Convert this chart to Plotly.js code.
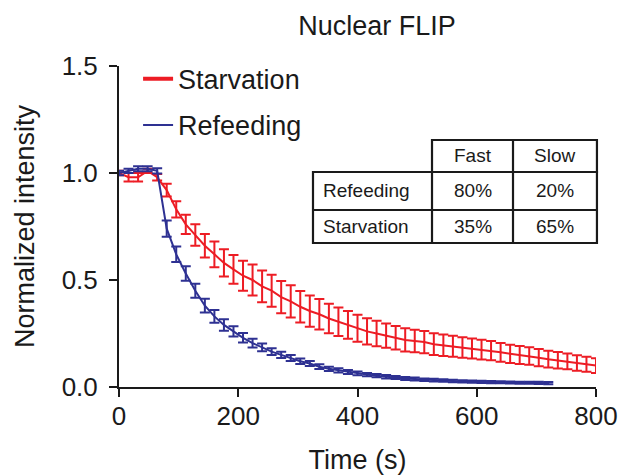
<!DOCTYPE html>
<html>
<head>
<meta charset="utf-8">
<script src="https://cdn.plot.ly/plotly-3.0.1.min.js"></script>
<style>html,body{margin:0;padding:0;background:#fff;}#chart{width:622px;height:475px;}</style>
</head>
<body>
<div id="chart"></div>
<script>
// ---- data ----
const timeStarvation = [0,16,32,48,64,80,96,112,128,144,160,176,192,208,224,240,256,272,288,304,320,336,352,368,384,400,416,432,448,464,480,496,512,528,544,560,576,592,608,624,640,656,672,688,704,720,736,752,768,784,800];
const starvation = [1.00,0.98,0.98,1.01,0.98,0.92,0.83,0.76,0.71,0.66,0.62,0.58,0.55,0.52,0.50,0.47,0.45,0.42,0.40,0.375,0.355,0.34,0.32,0.305,0.29,0.275,0.26,0.25,0.24,0.23,0.22,0.215,0.21,0.20,0.195,0.19,0.185,0.18,0.175,0.17,0.162,0.155,0.15,0.145,0.137,0.13,0.125,0.12,0.112,0.106,0.10];
const starvationErr = [0.01,0.02,0.02,0.01,0.015,0.03,0.038,0.045,0.05,0.055,0.06,0.064,0.067,0.07,0.072,0.074,0.075,0.075,0.075,0.074,0.073,0.071,0.069,0.067,0.065,0.063,0.061,0.059,0.057,0.055,0.054,0.053,0.052,0.051,0.05,0.049,0.048,0.047,0.046,0.045,0.044,0.043,0.042,0.041,0.04,0.039,0.038,0.037,0.036,0.035,0.034];

const timeRefeeding = [0,16,32,48,64,80,96,112,128,144,160,176,192,208,224,240,256,272,288,304,320,336,352,368,384,400,416,432,448,464,480,496,512,528,544,560,576,592,608,624,640,656,672,688,704,720];
const refeeding = [1.00,1.01,1.02,1.02,1.01,0.74,0.62,0.53,0.45,0.38,0.33,0.29,0.26,0.23,0.205,0.185,0.165,0.15,0.135,0.12,0.11,0.095,0.085,0.078,0.07,0.064,0.058,0.053,0.048,0.044,0.04,0.037,0.034,0.032,0.03,0.028,0.026,0.025,0.024,0.023,0.022,0.021,0.02,0.02,0.019,0.018];
const refeedingErr = [0.01,0.01,0.012,0.012,0.012,0.038,0.036,0.034,0.033,0.032,0.03,0.027,0.024,0.022,0.02,0.018,0.016,0.015,0.014,0.013,0.012,0.011,0.01,0.01,0.009,0.009,0.008,0.008,0.008,0.007,0.007,0.007,0.006,0.006,0.006,0.006,0.005,0.005,0.005,0.005,0.005,0.005,0.005,0.005,0.005,0.005];

const tableColumns = ["Fast", "Slow"];
const tableRows = ["Refeeding", "Starvation"];
const tableValues = [["80%", "20%"], ["35%", "65%"]];

const xTicks = [0, 200, 400, 600, 800];
const yTicks = [0, 0.5, 1.0, 1.5];

// ---- styles ----
const RED = "#ED1C24";
const BLUE = "#2E3192";
const INK = "#1a1a1a";
const FONT = "Liberation Sans, Arial, Helvetica, sans-serif";

const traces = [
  {
    x: timeStarvation, y: starvation, type: "scatter", mode: "lines",
    line: {color: RED, width: 2},
    error_y: {type: "data", array: starvationErr, visible: true, color: RED, thickness: 2, width: 5},
    showlegend: false, cliponaxis: false, hoverinfo: "skip"
  },
  {
    x: timeRefeeding, y: refeeding, type: "scatter", mode: "lines",
    line: {color: BLUE, width: 2},
    error_y: {type: "data", array: refeedingErr, visible: true, color: BLUE, thickness: 2, width: 5},
    showlegend: false, cliponaxis: false, hoverinfo: "skip"
  },
  // legend-only entries
  {x: [null], y: [null], type: "scatter", mode: "lines", name: "Starvation",
   line: {color: RED, width: 4}, legendgroup: "a"},
  {x: [null], y: [null], type: "scatter", mode: "lines", name: "Refeeding",
   line: {color: BLUE, width: 2}, legendgroup: "b"}
];

// table geometry in paper coordinates
const colX = [0.4067, 0.6562, 0.826, 1.002];
const rowY = [0.7695, 0.6698, 0.5514, 0.4486];
const shapes = [];
const lineStyle = {color: INK, width: 2.2};
shapes.push({type: "rect", xref: "paper", yref: "paper", x0: colX[1], x1: colX[3], y0: rowY[1], y1: rowY[0], line: lineStyle});
shapes.push({type: "rect", xref: "paper", yref: "paper", x0: colX[0], x1: colX[3], y0: rowY[3], y1: rowY[1], line: lineStyle});
shapes.push({type: "line", xref: "paper", yref: "paper", x0: colX[0], x1: colX[3], y0: rowY[2], y1: rowY[2], line: lineStyle});
shapes.push({type: "line", xref: "paper", yref: "paper", x0: colX[1], x1: colX[1], y0: rowY[3], y1: rowY[1], line: lineStyle});
shapes.push({type: "line", xref: "paper", yref: "paper", x0: colX[2], x1: colX[2], y0: rowY[3], y1: rowY[0], line: lineStyle});

const annotations = [];
const tFont = {family: FONT, size: 19, color: INK};
tableColumns.forEach((c, j) => {
  annotations.push({xref: "paper", yref: "paper", x: (colX[j+1] + colX[j+2]) / 2, y: (rowY[0] + rowY[1]) / 2,
    text: c, showarrow: false, xanchor: "center", yanchor: "middle", font: tFont});
});
tableRows.forEach((r, i) => {
  const yc = (rowY[i+1] + rowY[i+2]) / 2;
  annotations.push({xref: "paper", yref: "paper", x: colX[0] + 0.016, y: yc,
    text: r, showarrow: false, xanchor: "left", yanchor: "middle", font: tFont});
  tableValues[i].forEach((v, j) => {
    annotations.push({xref: "paper", yref: "paper", x: (colX[j+1] + colX[j+2]) / 2, y: yc,
      text: v, showarrow: false, xanchor: "center", yanchor: "middle", font: tFont});
  });
});

const axisCommon = {
  showgrid: false, zeroline: false, showline: true, linecolor: INK, linewidth: 2,
  ticks: "outside", ticklen: 8, tickwidth: 2, tickcolor: INK,
  tickfont: {family: FONT, size: 26, color: INK}
};

const layout = {
  width: 622, height: 475, autosize: false,
  margin: {l: 119, r: 26, t: 66, b: 88, pad: 0},
  paper_bgcolor: "#fff", plot_bgcolor: "#fff",
  font: {family: FONT, color: INK},
  title: {text: "Nuclear FLIP", font: {family: FONT, size: 27, color: INK},
    x: 0.606, xref: "container", xanchor: "center", y: 0.947, yref: "container", yanchor: "middle"},
  xaxis: Object.assign({}, axisCommon, {
    range: [0, 800], tickvals: xTicks, ticktext: xTicks.map(String),
    ticklabelstandoff: -3,
    title: {text: "Time (s)", font: {family: FONT, size: 27, color: INK}, standoff: 20}
  }),
  yaxis: Object.assign({}, axisCommon, {
    range: [0, 1.5], tickvals: yTicks, ticktext: yTicks.map(v => v.toFixed(1)),
    ticklabelstandoff: 6,
    title: {text: "Normalized intensity", font: {family: FONT, size: 27, color: INK}, standoff: 19}
  }),
  legend: {x: 0.04, y: 1.035, xanchor: "left", yanchor: "top", bgcolor: "rgba(0,0,0,0)",
    font: {family: FONT, size: 27, color: INK}, traceorder: "grouped", tracegroupgap: 8},
  shapes: shapes,
  annotations: annotations
};

Plotly.newPlot("chart", traces, layout, {displayModeBar: false, staticPlot: true});
</script>
</body>
</html>
